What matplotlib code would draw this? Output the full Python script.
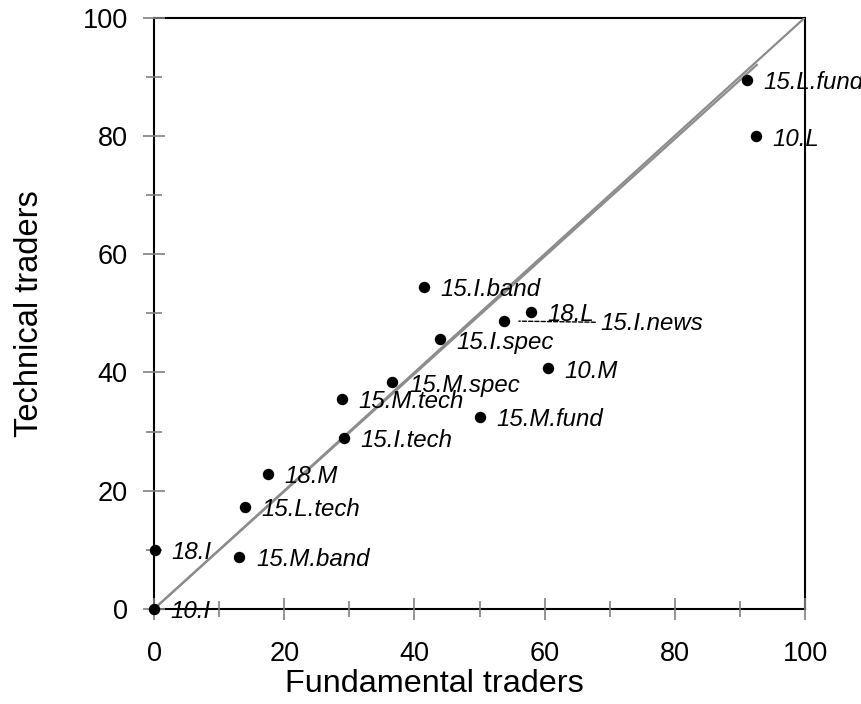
import numpy as np
import matplotlib
matplotlib.use("Agg")
import matplotlib.pyplot as plt

# values
names = ["10.I", "18.I", "15.M.band", "15.L.tech", "18.M", "15.I.tech",
         "15.M.tech", "15.M.spec", "15.M.fund", "15.I.spec", "10.M",
         "15.I.news", "18.L", "15.I.band", "10.L", "15.L.fund"]
fundamental = [0.0, 0.1, 13.1, 14.0, 17.5, 29.2,
               28.8, 36.6, 50.0, 43.9, 60.5,
               53.7, 57.9, 41.4, 92.5, 91.1]
technical = [0.0, 10.0, 8.8, 17.3, 22.8, 28.9,
             35.5, 38.3, 32.5, 45.6, 40.7,
             48.7, 50.2, 54.5, 79.9, 89.4]

diag_x = [0, 100]
diag_y = [0, 100]
fit_x = [0, 92.6]
fit_y = [0, 92.0]

plt.rcParams['font.family'] = ['Liberation Sans', 'DejaVu Sans']

fig = plt.figure(figsize=(8.62, 7.04), dpi=100)
ax = fig.add_axes([0.1787, 0.135, 0.7552, 0.8401])

ax.plot(diag_x, diag_y, color="#8c8c8c", lw=1.6, zorder=2)
ax.plot(fit_x, fit_y, color="#8c8c8c", lw=1.6, zorder=2)
ax.plot(fundamental, technical, "o", color="black", ms=7.2, zorder=3, clip_on=False)

for name, fx, ty in zip(names, fundamental, technical):
    if name == "15.I.news":
        ax.annotate(name, (fx, ty), xytext=(70, -1.5), textcoords="offset points",
                    ha="left", va="center", fontsize=17.3, style="italic",
                    annotation_clip=False,
                    arrowprops=dict(arrowstyle="-", color="black", lw=1.0,
                                    linestyle=(0, (3, 1.5)),
                                    shrinkA=2, shrinkB=11))
    else:
        ax.annotate(name, (fx, ty), xytext=(12, -2), textcoords="offset points",
                    ha="left", va="center", fontsize=17.3, style="italic",
                    annotation_clip=False, zorder=4)

ax.set_xlim(0, 100)
ax.set_ylim(0, 100)
ax.set_xticks(np.arange(0, 101, 20))
ax.set_yticks(np.arange(0, 101, 20))
ax.set_xticks(np.arange(10, 100, 20), minor=True)
ax.set_yticks(np.arange(10, 100, 20), minor=True)

ax.tick_params(which="major", direction="inout", length=16, width=1.2,
               color="#808080", labelsize=19.5, top=False, right=False)
ax.tick_params(which="minor", direction="inout", length=11, width=1.2,
               color="#808080", top=False, right=False)
ax.tick_params(axis="x", which="major", pad=15)
ax.tick_params(axis="y", which="major", pad=11)

for s in ax.spines.values():
    s.set_linewidth(1.5)
    s.set_color("black")
    s.set_zorder(1)

ax.set_xlabel("Fundamental traders", fontsize=23.3)
ax.set_ylabel("Technical traders", fontsize=23.5)
ax.xaxis.set_label_coords(0.43, -0.102)
ax.yaxis.set_label_coords(-0.168, 0.5)

fig.savefig("out.png", dpi=100)
